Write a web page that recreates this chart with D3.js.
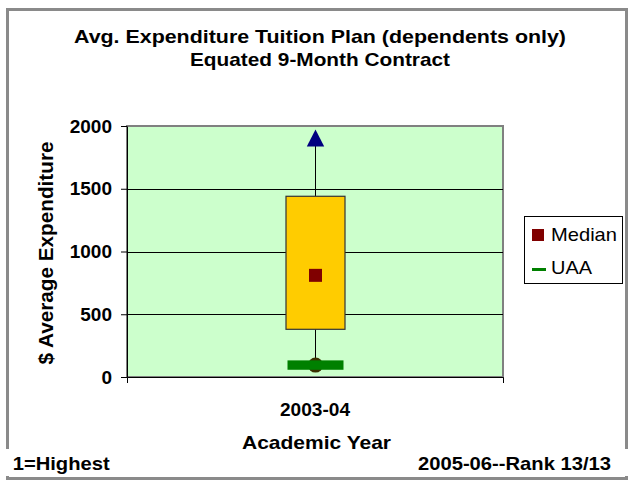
<!DOCTYPE html>
<html>
<head>
<meta charset="utf-8">
<script src="https://cdn.jsdelivr.net/npm/d3@7"></script>
<style>
  html, body { margin: 0; padding: 0; background: #fff; }
  svg { display: block; }
  text { font-family: "Liberation Sans", Arial, sans-serif; fill: #000; }
</style>
</head>
<body>
<div id="chart"></div>
<script>
// ---- data ----
const categories = ["2003-04"];
const maxValues = [1900];
const q3Values = [1440];
const medianValues = [810];
const q1Values = [380];
const minValues = [95];
const uaaValues = [95];
const yTickValues = [0, 500, 1000, 1500, 2000];
const titleLines = ["Avg. Expenditure Tuition Plan (dependents only)", "Equated 9-Month Contract"];
const legendLabels = ["Median", "UAA"];

// ---- layout ----
const W = 629, H = 485;
const plot = { left: 127, right: 503, top: 126, bottom: 377 };
const FONT_B = 18.5;

const svg = d3.select("#chart").append("svg").attr("width", W).attr("height", H);
svg.append("rect").attr("width", W).attr("height", H).attr("fill", "#fff");

// outer frame
svg.append("rect").attr("x", 7.5).attr("y", 9.5).attr("width", 619).attr("height", 469)
  .attr("fill", "none").attr("stroke", "#8a8a8a").attr("stroke-width", 3);

// title
const titleSpecs = [{ y: 43, len: 492 }, { y: 66, len: 260 }];
titleLines.forEach((t, i) => {
  svg.append("text").attr("x", 320).attr("y", titleSpecs[i].y)
    .attr("text-anchor", "middle").attr("font-weight", "bold").attr("font-size", FONT_B)
    .attr("textLength", titleSpecs[i].len).attr("lengthAdjust", "spacingAndGlyphs")
    .text(t);
});

// scales
const x = d3.scaleBand().domain(categories).range([plot.left, plot.right]);
const y = d3.scaleLinear().domain([0, 2000]).range([plot.bottom, plot.top]);

// plot area
svg.append("rect").attr("x", plot.left).attr("y", plot.top)
  .attr("width", plot.right - plot.left).attr("height", plot.bottom - plot.top)
  .attr("fill", "#ccffcc").attr("stroke", "#808080").attr("stroke-width", 2);

// gridlines
svg.append("g").selectAll("line").data(yTickValues.filter(v => v > 0 && v < 2000)).join("line")
  .attr("x1", plot.left).attr("x2", plot.right)
  .attr("y1", d => Math.round(y(d)) + 0.5).attr("y2", d => Math.round(y(d)) + 0.5)
  .attr("stroke", "#000").attr("stroke-width", 1);

// y axis
const yAxis = svg.append("g").attr("transform", `translate(${plot.left},0)`)
  .call(d3.axisLeft(y).tickValues(yTickValues).tickFormat(d3.format("d"))
    .tickSizeInner(6).tickSizeOuter(0).tickPadding(9));
yAxis.selectAll("text").attr("font-size", 19).attr("font-weight", "bold")
  .attr("font-family", "'Liberation Sans', Arial, sans-serif").attr("fill", "#000");
yAxis.selectAll("line,path").attr("stroke", "#000");

// x axis
const xAxis = svg.append("g").attr("transform", `translate(0,${plot.bottom})`)
  .call(d3.axisBottom(x).tickSizeInner(0).tickSizeOuter(6).tickPadding(26));
xAxis.selectAll("text").attr("font-size", FONT_B).attr("font-weight", "bold")
  .attr("font-family", "'Liberation Sans', Arial, sans-serif").attr("fill", "#000")
  .attr("textLength", 70).attr("lengthAdjust", "spacingAndGlyphs");
xAxis.selectAll("line,path").attr("stroke", "#000");

// box plot
const boxW = 59;
const cx = c => x(c) + x.bandwidth() / 2;
const g = svg.append("g");
categories.forEach((c, i) => {
  const xc = Math.round(cx(c)) + 0.5;
  // whiskers
  g.append("line").attr("x1", xc).attr("x2", xc).attr("y1", y(maxValues[i])).attr("y2", y(q3Values[i]))
    .attr("stroke", "#000");
  g.append("line").attr("x1", xc).attr("x2", xc).attr("y1", y(q1Values[i])).attr("y2", y(minValues[i]))
    .attr("stroke", "#000");
  // box
  g.append("rect").attr("x", xc - boxW / 2).attr("y", y(q3Values[i]))
    .attr("width", boxW).attr("height", y(q1Values[i]) - y(q3Values[i]))
    .attr("fill", "#ffcc00").attr("stroke", "#333").attr("stroke-width", 1.2);
  // max triangle
  const ty = y(maxValues[i]);
  const p = d3.path();
  p.moveTo(xc, ty - 9); p.lineTo(xc + 8.7, ty + 8); p.lineTo(xc - 8.7, ty + 8); p.closePath();
  g.append("path").attr("d", p.toString()).attr("fill", "#000080");
  // min circle
  g.append("circle").attr("cx", xc).attr("cy", y(minValues[i])).attr("r", 7.5)
    .attr("fill", "#3a3000");
  // UAA bar
  g.append("rect").attr("x", xc - 28).attr("y", y(uaaValues[i]) - 4.7)
    .attr("width", 56).attr("height", 9.4).attr("fill", "#008000");
  // median square
  g.append("rect").attr("x", xc - 6.5).attr("y", y(medianValues[i]) - 6.5)
    .attr("width", 13).attr("height", 13).attr("fill", "#800000");
});

// y axis title
svg.append("text").attr("transform", "translate(53,253) rotate(-90)")
  .attr("text-anchor", "middle").attr("font-weight", "bold").attr("font-size", 20.5)
  .attr("textLength", 223).attr("lengthAdjust", "spacingAndGlyphs")
  .text("$ Average Expenditure");

// x axis title
svg.append("text").attr("x", 316.5).attr("y", 449).attr("text-anchor", "middle")
  .attr("font-weight", "bold").attr("font-size", FONT_B)
  .attr("textLength", 149).attr("lengthAdjust", "spacingAndGlyphs")
  .text("Academic Year");

// legend
const lg = svg.append("g");
lg.append("rect").attr("x", 524.5).attr("y", 216.5).attr("width", 98).attr("height", 67)
  .attr("fill", "#fff").attr("stroke", "#000").attr("stroke-width", 1);
lg.append("rect").attr("x", 532).attr("y", 229).attr("width", 12).attr("height", 12).attr("fill", "#800000");
lg.append("line").attr("x1", 532).attr("x2", 546).attr("y1", 269.5).attr("y2", 269.5)
  .attr("stroke", "#008000").attr("stroke-width", 3);
lg.append("text").attr("x", 551).attr("y", 241).attr("font-size", 19)
  .attr("textLength", 66).attr("lengthAdjust", "spacingAndGlyphs").text(legendLabels[0]);
lg.append("text").attr("x", 551).attr("y", 274).attr("font-size", 19)
  .attr("textLength", 41).attr("lengthAdjust", "spacingAndGlyphs").text(legendLabels[1]);

// bottom notes with white backgrounds covering frame
svg.append("rect").attr("x", 0).attr("y", 449).attr("width", 118).attr("height", 27).attr("fill", "#fff");
svg.append("rect").attr("x", 412).attr("y", 449).attr("width", 217).attr("height", 27).attr("fill", "#fff");
svg.append("text").attr("x", 12.7).attr("y", 470).attr("font-weight", "bold").attr("font-size", FONT_B)
  .attr("textLength", 97).attr("lengthAdjust", "spacingAndGlyphs").text("1=Highest");
svg.append("text").attr("x", 418).attr("y", 470).attr("font-weight", "bold").attr("font-size", FONT_B)
  .attr("textLength", 193).attr("lengthAdjust", "spacingAndGlyphs").text("2005-06--Rank 13/13");
</script>
</body>
</html>
